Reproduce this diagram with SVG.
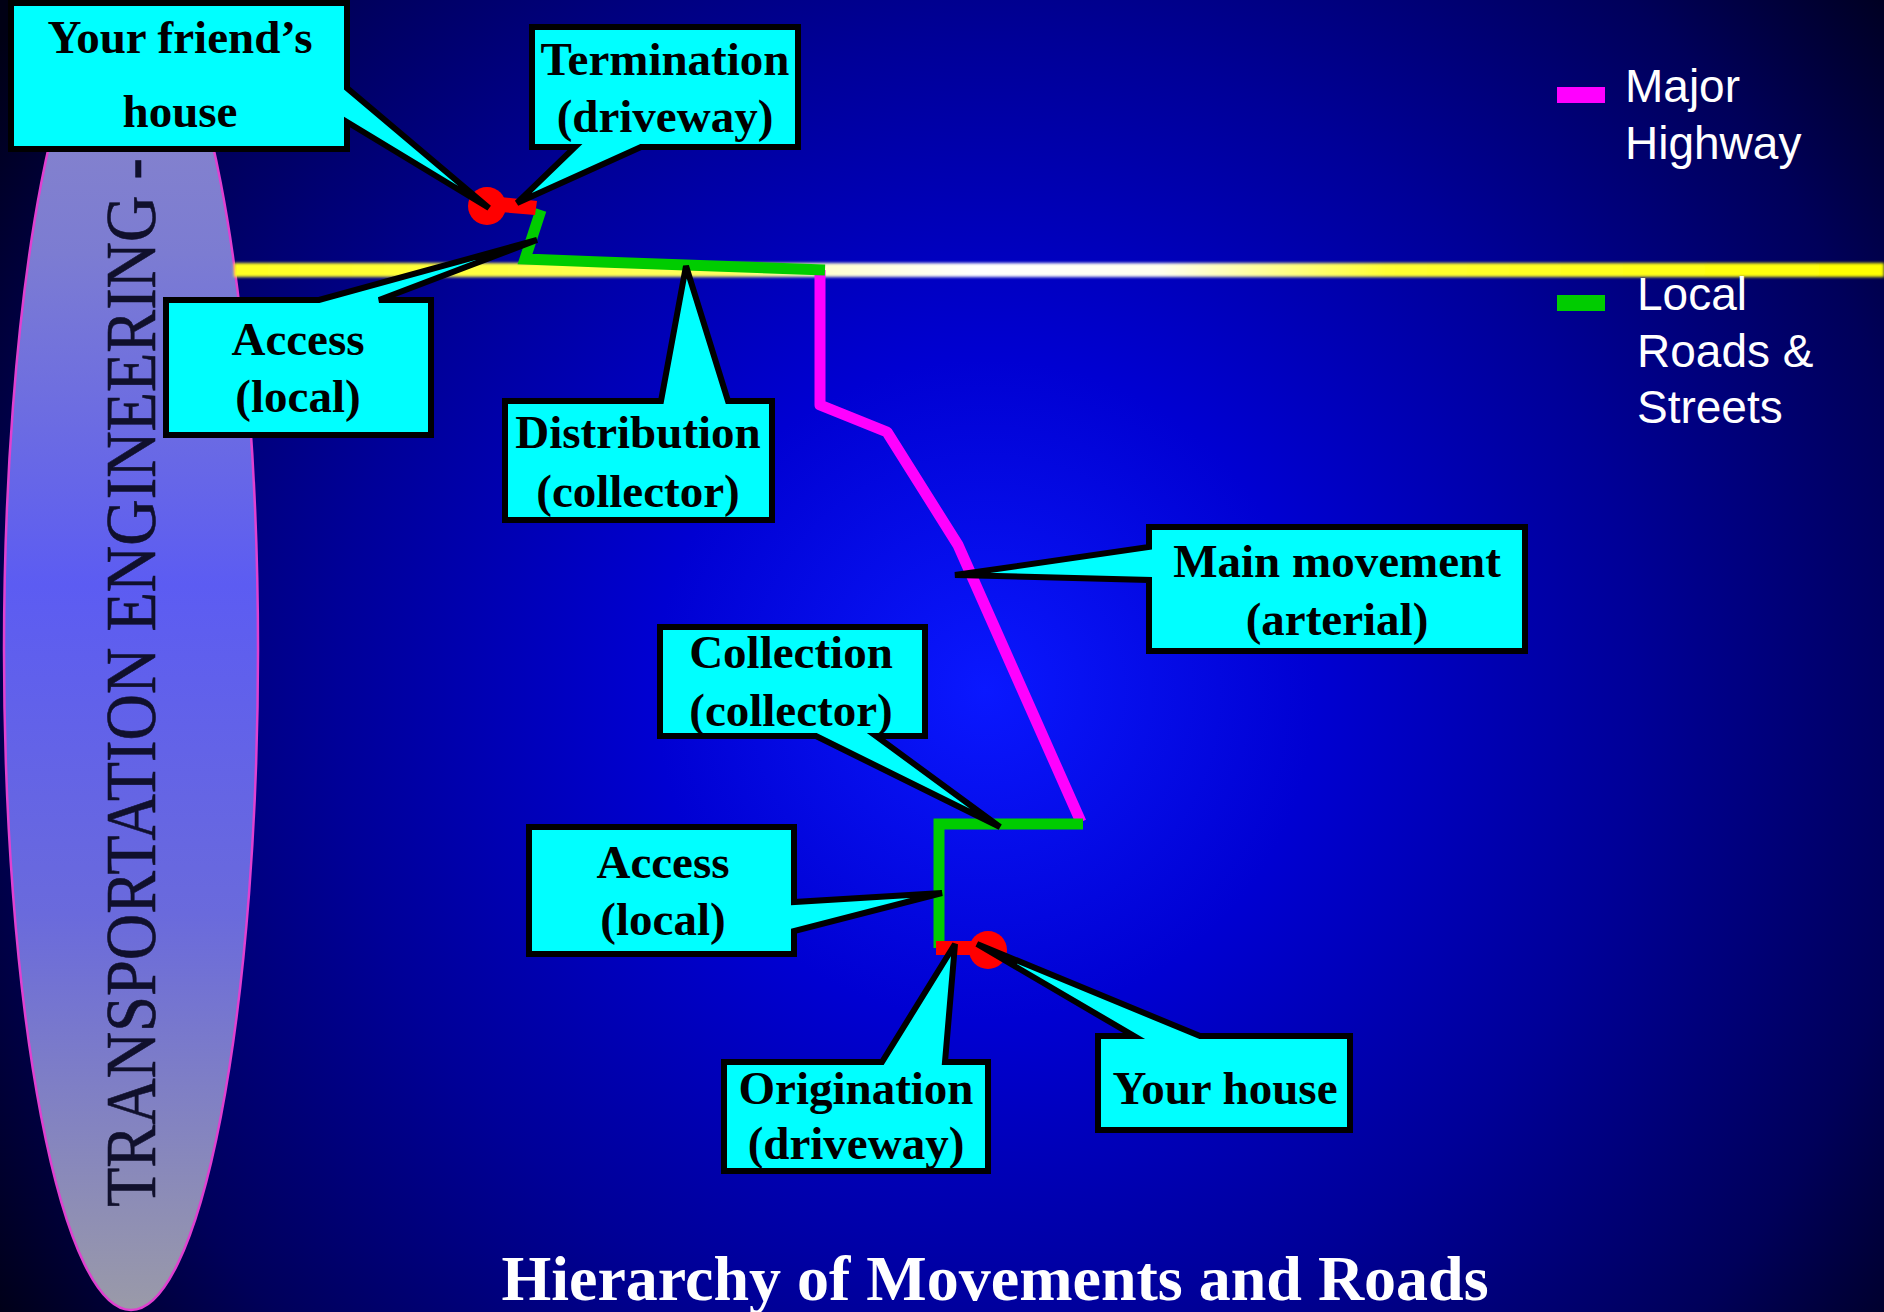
<svg xmlns="http://www.w3.org/2000/svg" width="1884" height="1312" viewBox="0 0 1884 1312">
  <defs>
    <radialGradient id="bg" gradientUnits="userSpaceOnUse" cx="985" cy="690" r="1180">
      <stop offset="0" stop-color="#0a18ff"/>
      <stop offset="0.28" stop-color="#0000d2"/>
      <stop offset="0.55" stop-color="#000098"/>
      <stop offset="0.8" stop-color="#00005a"/>
      <stop offset="1" stop-color="#000014"/>
    </radialGradient>
    <linearGradient id="ell" x1="0" y1="0" x2="0" y2="1">
      <stop offset="0" stop-color="#8c88c8"/>
      <stop offset="0.2" stop-color="#7c7cd2"/>
      <stop offset="0.45" stop-color="#5c5cf2"/>
      <stop offset="0.7" stop-color="#6a6adc"/>
      <stop offset="1" stop-color="#9a9aa8"/>
    </linearGradient>
    <linearGradient id="road" gradientUnits="userSpaceOnUse" x1="234" y1="0" x2="1884" y2="0">
      <stop offset="0" stop-color="#ffff20"/>
      <stop offset="0.3" stop-color="#ffff60"/>
      <stop offset="0.36" stop-color="#ffffd0"/>
      <stop offset="0.45" stop-color="#ffffff"/>
      <stop offset="0.56" stop-color="#fffff0"/>
      <stop offset="0.7" stop-color="#ffff30"/>
      <stop offset="1" stop-color="#ffff00"/>
    </linearGradient>
    <filter id="glow" x="-0.05" y="-2" width="1.1" height="5">
      <feGaussianBlur stdDeviation="1.6"/>
    </filter>
    <style>
      .box { fill: #00ffff; stroke: #000; stroke-width: 6; stroke-linejoin: miter; }
      .lbl { font-family: "Liberation Serif", "Times New Roman", serif; font-weight: bold; font-size: 47px; fill: #000; text-anchor: middle; }
      .leg { font-family: "Liberation Sans", Arial, sans-serif; font-size: 46px; fill: #fff; }
      .local { fill: none; stroke: #00cc00; stroke-width: 11; stroke-linejoin: miter; }
      .major { fill: none; stroke: #ff00ff; stroke-width: 11; stroke-linejoin: round; }
      .drive { fill: #ff0000; }
    </style>
  </defs>

  <rect x="0" y="0" width="1884" height="1312" fill="url(#bg)"/>

  <g id="side-banner">
    <ellipse cx="131" cy="650" rx="127" ry="660" fill="url(#ell)" stroke="#e040d0" stroke-width="2.5"/>
    <text transform="translate(155,1207) rotate(-90)" font-family="Liberation Serif, Times New Roman, serif" font-size="71" fill="#10102c" stroke="#10102c" stroke-width="0.6" textLength="1049" lengthAdjust="spacingAndGlyphs">TRANSPORTATION ENGINEERING -</text>
  </g>

  <g id="road-line">
    <rect x="234" y="263" width="1650" height="14" fill="url(#road)" filter="url(#glow)"/>
  </g>

  <g id="connectors">
    <polyline class="major" points="820,270 820,405 887,432 958,545 1081,822"/>
    <polyline class="local" points="541,210 525,259 601,262 825,270"/>
    <polyline class="local" points="1083,824 939,824 939,948"/>
    <polygon class="drive" points="500,197 537,201 535,215 500,212"/>
    <circle class="drive" cx="487" cy="206" r="19"/>
    <rect class="drive" x="936" y="941" width="40" height="14"/>
    <circle class="drive" cx="988" cy="950" r="19"/>
  </g>

  <g id="friends-house">
    <path class="box" d="M11,3 H347 V88 L489,208 L347,122 V149 H11 Z"/>
    <text class="lbl" x="180" y="53">Your friend’s</text>
    <text class="lbl" x="180" y="127">house</text>
  </g>

  <g id="termination">
    <path class="box" d="M532,27 H798 V147 H641 L517,203 L575,147 H532 Z"/>
    <text class="lbl" x="665" y="75">Termination</text>
    <text class="lbl" x="665" y="132">(driveway)</text>
  </g>

  <g id="access-top">
    <path class="box" d="M166,300 H319 L537,240 L379,300 H431 V435 H166 Z"/>
    <text class="lbl" x="298" y="355">Access</text>
    <text class="lbl" x="298" y="412">(local)</text>
  </g>

  <g id="distribution">
    <path class="box" d="M505,401 H661 L686,266 L728,401 H772 V520 H505 Z"/>
    <text class="lbl" x="638" y="448">Distribution</text>
    <text class="lbl" x="638" y="507">(collector)</text>
  </g>

  <g id="main-movement">
    <path class="box" d="M1149,527 H1525 V651 H1149 V580 L955,575 L1149,547 Z"/>
    <text class="lbl" x="1337" y="577">Main movement</text>
    <text class="lbl" x="1337" y="635">(arterial)</text>
  </g>

  <g id="collection">
    <path class="box" d="M660,627 H925 V736 H876 L1000,827 L816,736 H660 Z"/>
    <text class="lbl" x="791" y="668">Collection</text>
    <text class="lbl" x="791" y="726">(collector)</text>
  </g>

  <g id="access-bottom">
    <path class="box" d="M529,827 H794 V902 L942,893 L794,931 V954 H529 Z"/>
    <text class="lbl" x="663" y="878">Access</text>
    <text class="lbl" x="663" y="935">(local)</text>
  </g>

  <g id="origination">
    <path class="box" d="M724,1062 H882 L955,944 L945,1062 H988 V1171 H724 Z"/>
    <text class="lbl" x="856" y="1104">Origination</text>
    <text class="lbl" x="856" y="1159">(driveway)</text>
  </g>

  <g id="your-house">
    <path class="box" d="M1098,1036 H1134 L977,944 L1200,1036 H1350 V1130 H1098 Z"/>
    <text class="lbl" x="1225" y="1104">Your house</text>
  </g>

  <g id="legend">
    <rect x="1557" y="87" width="48" height="16" fill="#ff00ff"/>
    <text class="leg" x="1625" y="102">Major</text>
    <text class="leg" x="1625" y="159">Highway</text>
    <rect x="1557" y="295" width="48" height="16" fill="#00cc00"/>
    <text class="leg" x="1637" y="310">Local</text>
    <text class="leg" x="1637" y="367">Roads &amp;</text>
    <text class="leg" x="1637" y="423">Streets</text>
  </g>

  <text id="title" x="995" y="1300" font-family="Liberation Serif, Times New Roman, serif" font-weight="bold" font-size="64" fill="#fff" text-anchor="middle">Hierarchy of Movements and Roads</text>
</svg>
